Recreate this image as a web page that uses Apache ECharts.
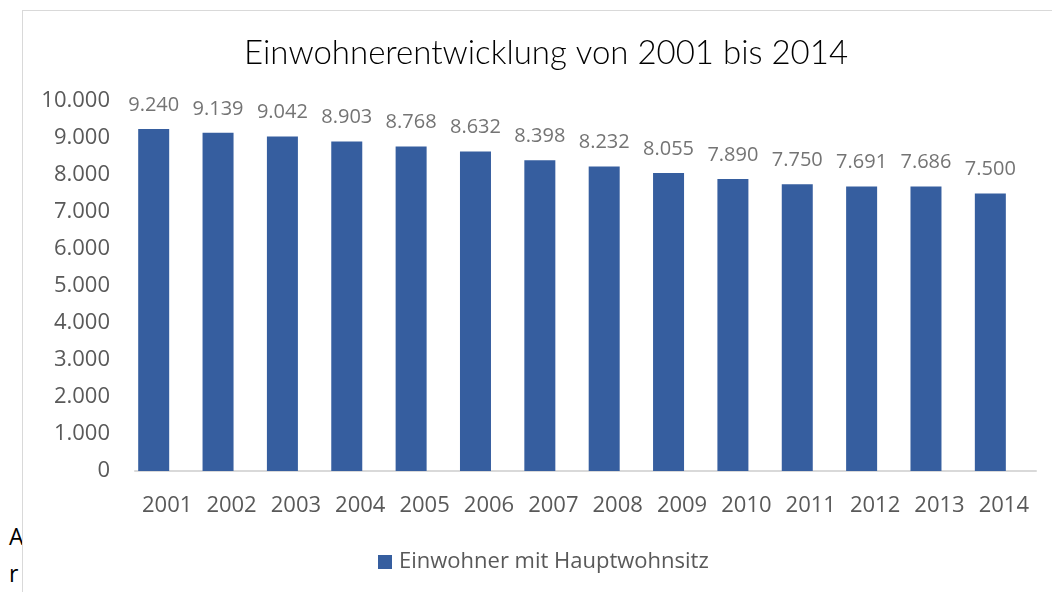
<!DOCTYPE html>
<html lang="de">
<head>
    <meta http-equiv="Content-Type" content="text/html; charset=utf-8">
    <script type="text/javascript" src="https://cdn.jsdelivr.net/npm/echarts@6/dist/echarts.min.js"></script>
    <title>Einwohnerentwicklung</title>
    <style>
        html, body { margin: 0; padding: 0; width: 1052px; height: 592px; overflow: hidden; background: #fff; }
        .doc { position: absolute; left: 9px; font-family: "Open Sans", sans-serif; font-size: 23px; color: #000; }
        #chart { position: absolute; left: 22px; top: 10px; width: 1040px; height: 600px;
                 border: 1px solid #d9d9d9; background: #fff; }
    </style>
</head>
<body>
<div class="doc" style="top: 520px;">A</div>
<div class="doc" style="top: 557px;">r</div>
<div id="chart"></div>

<script>
const years = ['2001', '2002', '2003', '2004', '2005', '2006', '2007',
               '2008', '2009', '2010', '2011', '2012', '2013', '2014'];
const einwohner = [9240, 9139, 9042, 8903, 8768, 8632, 8398,
                   8232, 8055, 7890, 7750, 7691, 7686, 7500];
const seriesName = 'Einwohner mit Hauptwohnsitz';
const titleText = 'Einwohnerentwicklung von 2001 bis 2014';

// Tausenderpunkt wie in der Vorlage
function fmt(v) {
    return String(v).replace(/\B(?=(\d{3})+(?!\d))/g, '.');
}

function createChart(dom) {
    let chart = echarts.init(dom);
    const option = {
        animation: false,
        title: {
            text: titleText,
            left: 518,
            top: 21,
            textAlign: 'center',
            textStyle: {
                fontFamily: 'Lato',
                fontWeight: 300,
                fontSize: 33,
                color: '#000'
            }
        },
        legend: {
            data: [seriesName],
            left: 350,
            top: 535,
            icon: 'rect',
            itemWidth: 14,
            itemHeight: 14,
            textStyle: {
                fontFamily: 'Open Sans',
                fontSize: 22,
                color: '#595959',
                padding: [0, 0, 0, 2]
            }
        },
        grid: {
            left: 112,
            right: 27,
            top: 90,
            bottom: 140
        },
        xAxis: {
            type: 'category',
            data: years,
            axisLine: { lineStyle: { color: '#d9d9d9', width: 2 } },
            axisTick: { interval: 0, length: 7, lineStyle: { color: '#d9d9d9', width: 2 } },
            axisLabel: {
                interval: 0,
                margin: 24,
                fontFamily: 'Open Sans',
                fontSize: 22,
                color: '#595959'
            }
        },
        yAxis: {
            type: 'value',
            min: 0,
            max: 10000,
            interval: 1000,
            splitLine: { show: false },
            axisLine: { show: false },
            axisTick: { show: false },
            axisLabel: {
                margin: 25,
                fontFamily: 'Open Sans',
                fontSize: 22,
                color: '#595959',
                formatter: fmt
            }
        },
        series: [
            {
                name: seriesName,
                type: 'bar',
                data: einwohner,
                barWidth: 31,
                barGap: '-13%',
                itemStyle: { color: '#365e9f' },
                label: {
                    show: true,
                    position: 'top',
                    distance: 14,
                    fontFamily: 'Open Sans',
                    fontSize: 20,
                    color: '#747474',
                    formatter: function (x) {
                        return fmt(x.value);
                    }
                }
            },
            {
                // leere zweite Reihe wie im Excel-Diagramm, schiebt die Balken nach links
                name: '',
                type: 'bar',
                data: [],
                barWidth: 31
            }
        ]
    };
    chart.setOption(option);
}

createChart(document.getElementById('chart'));
</script>
</body>
</html>
